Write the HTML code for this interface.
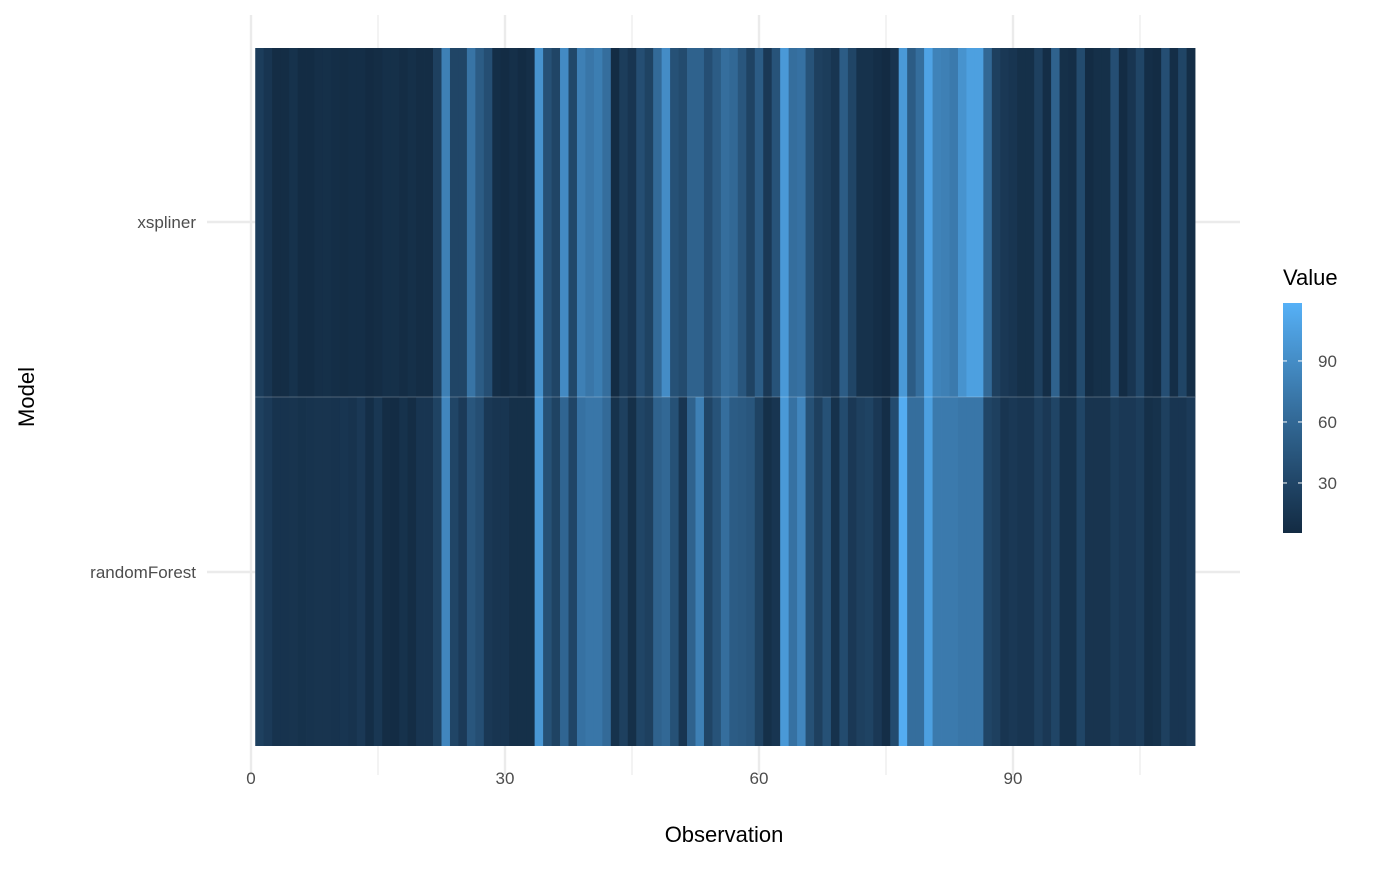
<!DOCTYPE html>
<html><head><meta charset="utf-8"><style>
body{margin:0;background:#fff;}
svg text{font-family:"Liberation Sans",Arial,sans-serif;}
</style></head><body>
<svg id="chart" width="1400" height="865" xmlns="http://www.w3.org/2000/svg">
<defs><linearGradient id="lg" x1="0" y1="1" x2="0" y2="0"></linearGradient></defs>
<g id="grid"></g>
<g id="tiles"></g>
<g id="axes"></g>
<text x="724" y="842" font-size="22" text-anchor="middle" fill="#000">Observation</text>
<text transform="translate(34,397) rotate(-90)" font-size="22" text-anchor="middle" fill="#000">Model</text>
<g>
<text x="1283" y="285" font-size="22" fill="#000">Value</text>
<rect x="1283" y="303" width="19" height="230" fill="url(#lg)"/>
<g id="legend-ticks"></g>
</g>
</svg>
<script>
const models = ["xspliner","randomForest"];
const xTicks = [0,30,60,90];
const legendTicks = [30,60,90];
const xspliner = [22,15,7,7,12,6,6,9,10,8,7,8,8,5,7,10,10,7,10,7,7,25,80,30,30,70,50,38,8,6,10,6,9,95,40,30,88,32,80,72,78,65,6,22,15,38,28,62,90,40,35,55,55,38,50,65,60,45,28,50,18,42,100,65,68,42,25,22,15,50,30,12,12,8,5,14,100,50,65,108,82,80,75,95,105,105,60,25,18,15,10,10,25,8,55,10,8,35,6,10,10,38,6,15,30,8,6,38,8,30,8];
const randomForest = [25,20,13,13,14,12,13,14,14,13,15,13,18,8,17,7,6,12,7,15,15,28,85,30,20,45,38,18,15,15,10,10,10,98,40,28,58,30,68,72,72,62,12,25,10,30,25,55,60,40,15,55,80,30,42,65,50,48,45,28,10,15,100,68,85,40,25,40,12,35,18,25,28,18,8,35,115,65,65,105,75,75,75,72,72,72,30,25,15,18,15,15,25,18,30,12,12,30,14,14,14,22,18,18,22,10,12,25,15,15,20];
const series = [xspliner, randomForest];
const NS="http://www.w3.org/2000/svg";
const X0=251, PXU=254/30;
const xs = v => X0 + v*PXU;
const rowTop = [48,397], rowH=349, rowCenter=[222,572];
const vmin=5.4, vmax=118.5;
// Lab interpolation (like ggplot2 scale_fill_gradient)
function s2l(c){c/=255;return c<=0.04045?c/12.92:Math.pow((c+0.055)/1.055,2.4);}
function l2s(c){c=c<=0.0031308?12.92*c:1.055*Math.pow(c,1/2.4)-0.055;return Math.max(0,Math.min(255,Math.round(c*255)));}
const Wn=[0.95047,1,1.08883];
function f(t){return t>0.008856?Math.cbrt(t):7.787*t+16/116;}
function fi(t){return t>0.206893?t*t*t:(t-16/116)/7.787;}
function toLab(rgb){const [r,g,b]=rgb.map(s2l);
const X=0.4124*r+0.3576*g+0.1805*b,Y=0.2126*r+0.7152*g+0.0722*b,Z=0.0193*r+0.1192*g+0.9505*b;
const fx=f(X/Wn[0]),fy=f(Y/Wn[1]),fz=f(Z/Wn[2]);return [116*fy-16,500*(fx-fy),200*(fy-fz)];}
function fromLab(L){const fy=(L[0]+16)/116,fx=fy+L[1]/500,fz=fy-L[2]/200;
const X=fi(fx)*Wn[0],Y=fi(fy)*Wn[1],Z=fi(fz)*Wn[2];
const r=3.2406*X-1.5372*Y-0.4986*Z,g=-0.9689*X+1.8758*Y+0.0415*Z,b=0.0557*X-0.2040*Y+1.0570*Z;
return [l2s(r),l2s(g),l2s(b)];}
const L0=toLab([0x13,0x2B,0x43]),L1=toLab([0x56,0xB1,0xF7]);
function colT(t){t=Math.max(0,Math.min(1,t));return "rgb("+fromLab(L0.map((a,i)=>a+(L1[i]-a)*t)).join(",")+")";}
function col(v){return colT((v-vmin)/(vmax-vmin));}
const lgEl=document.getElementById('lg');
for(let i=0;i<=10;i++){const st=document.createElementNS(NS,'stop');st.setAttribute('offset',i/10);st.setAttribute('stop-color',colT(i/10));lgEl.appendChild(st);}
const ly = v => 533 - (v-vmin)/(vmax-vmin)*230;
function mk(tag,attrs,parent){const e=document.createElementNS(NS,tag);for(const k in attrs)e.setAttribute(k,attrs[k]);parent.appendChild(e);return e;}
const grid=document.getElementById('grid');
for(let v=15;v<=105;v+=30){const l=mk('line',{x1:xs(v),x2:xs(v),y1:15,y2:775,stroke:'#ebebeb','stroke-width':1.2},grid);

}
xTicks.forEach(v=>{const l=mk('line',{x1:xs(v),x2:xs(v),y1:15,y2:775,stroke:'#ebebeb','stroke-width':2.4},grid);

});
rowCenter.forEach(y=>{const l=mk('line',{x1:207,x2:1240,y1:y,y2:y,stroke:'#ebebeb','stroke-width':2.4},grid);

});
const tiles=document.getElementById('tiles');
series.forEach((s,r)=>{s.forEach((v,i)=>{const x=xs(i+0.5);
const rc=mk('rect',{x:x,y:rowTop[r],width:PXU+0.4,height:rowH,fill:col(v)},tiles);

});});
mk('line',{x1:xs(0.5),x2:xs(series[0].length+0.5),y1:397,y2:397,stroke:'#ffffff','stroke-opacity':0.25,'stroke-width':1},tiles);
const axes=document.getElementById('axes');
xTicks.forEach(v=>{const t=mk('text',{x:xs(v),y:784,'font-size':17,'text-anchor':'middle',fill:'#4d4d4d'},axes);t.textContent=v;

});
models.forEach((m,r)=>{const t=mk('text',{x:196,y:rowCenter[r]+6,'font-size':17,'text-anchor':'end',fill:'#4d4d4d'},axes);t.textContent=m;

});
const lt=document.getElementById('legend-ticks');
legendTicks.forEach(v=>{const y=ly(v);
mk('line',{x1:1283,x2:1287,y1:y,y2:y,stroke:'#fff','stroke-width':1},lt);
mk('line',{x1:1298,x2:1302,y1:y,y2:y,stroke:'#fff','stroke-width':1},lt);
const t=mk('text',{x:1318,y:y+6,'font-size':17,fill:'#4d4d4d'},lt);t.textContent=v;

});
</script>
</body></html>
